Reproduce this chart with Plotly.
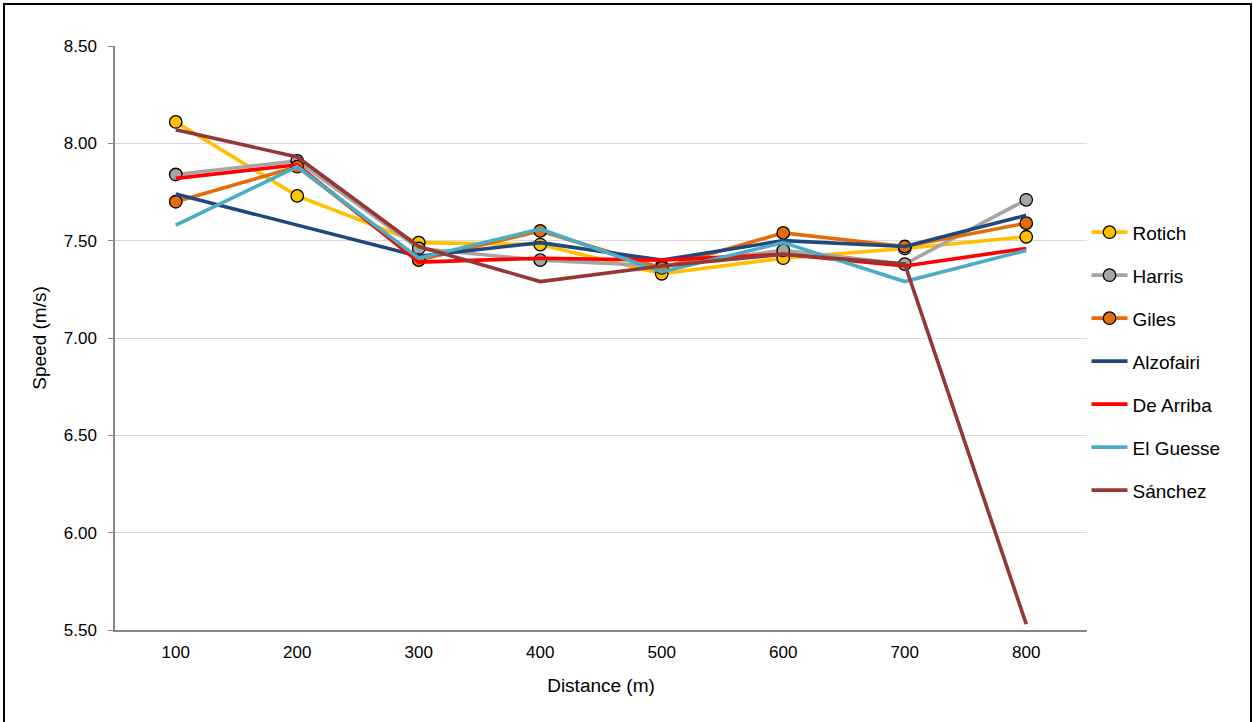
import plotly.graph_objects as go

# Split distances (m)
distance = [100, 200, 300, 400, 500, 600, 700, 800]

# Average speed per 100 m split (m/s)
rotich = [8.11, 7.73, 7.49, 7.48, 7.33, 7.41, 7.46, 7.52]
harris = [7.84, 7.91, 7.46, 7.40, 7.37, 7.45, 7.38, 7.71]
giles = [7.70, 7.88, 7.40, 7.55, 7.36, 7.54, 7.47, 7.59]
alzofairi = [7.74, 7.58, 7.42, 7.49, 7.40, 7.50, 7.47, 7.63]
de_arriba = [7.82, 7.89, 7.39, 7.41, 7.40, 7.43, 7.37, 7.46]
el_guesse = [7.58, 7.88, 7.41, 7.56, 7.34, 7.49, 7.29, 7.45]
sanchez = [8.07, 7.93, 7.47, 7.29, 7.37, 7.43, 7.38, 5.53]

y_ticks = [5.5, 6.0, 6.5, 7.0, 7.5, 8.0, 8.5]

series = [
    ("Rotich", rotich, "#FFC000", True),
    ("Harris", harris, "#A5A5A5", True),
    ("Giles", giles, "#E46C0A", True),
    ("Alzofairi", alzofairi, "#1F497D", False),
    ("De Arriba", de_arriba, "#FF0000", False),
    ("El Guesse", el_guesse, "#4BACC6", False),
    ("Sánchez", sanchez, "#953735", False),
]

fig = go.Figure()
for name, vals, color, with_markers in series:
    fig.add_trace(go.Scatter(
        x=distance, y=vals, name=name, legendgroup=name,
        mode="lines+markers" if with_markers else "lines",
        line=dict(color=color, width=3.6),
        marker=dict(size=12.5, color=color, line=dict(color="#000000", width=1.3)),
    ))

font_family = "Liberation Sans, Arial, sans-serif"

fig.update_layout(
    width=1253, height=722,
    margin=dict(l=115, r=166, t=46, b=92),
    paper_bgcolor="white", plot_bgcolor="white",
    font=dict(family=font_family, color="#000000", size=17),
    showlegend=True,
    legend=dict(
        x=0.9995, y=0.7135, xanchor="left", yanchor="top",
        font=dict(size=19, family=font_family),
        tracegroupgap=15.3, itemwidth=36,
        bgcolor="rgba(0,0,0,0)",
    ),
    xaxis=dict(
        range=[50, 850], tickvals=distance, ticktext=[str(d) for d in distance],
        showgrid=False, zeroline=False,
        showline=True, linecolor="#868686", linewidth=1.5,
        ticks="", tickfont=dict(size=17), ticklabelstandoff=6,
        title=dict(text="Distance (m)", font=dict(size=19), standoff=18),
        automargin=False,
    ),
    yaxis=dict(
        range=[5.5, 8.5], tickvals=y_ticks, tickformat=".2f",
        showgrid=True, gridcolor="#D9D9D9", gridwidth=1.2,
        zeroline=False,
        showline=True, linecolor="#868686", linewidth=1.5,
        ticks="outside", ticklen=5, tickcolor="#868686", tickwidth=1.2,
        tickfont=dict(size=17), ticklabelstandoff=8,
        title=dict(text="Speed (m/s)", font=dict(size=19), standoff=12),
        automargin=False,
    ),
    shapes=[dict(
        type="rect", xref="paper", yref="paper",
        x0=(4 - 115) / 972, x1=(1251 - 115) / 972,
        y0=(630 - 740) / 584, y1=(630 - 4) / 584,
        line=dict(color="#000000", width=2), fillcolor="rgba(0,0,0,0)",
        layer="below",
    )],
)

fig.write_html("out.html")
